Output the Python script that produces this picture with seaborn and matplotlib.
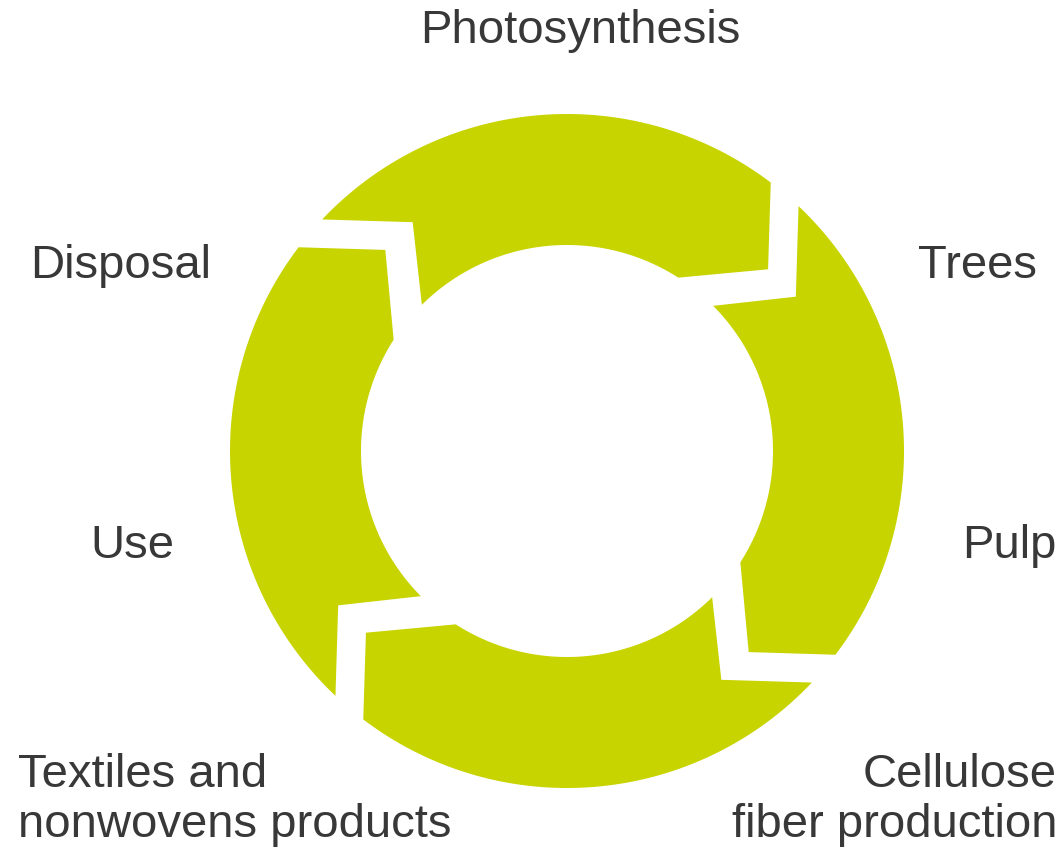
import numpy as np
import matplotlib
matplotlib.use("Agg")
import matplotlib.pyplot as plt
import seaborn as sns

# stages of the cycle, clockwise from the top arrow
stages = ["Photosynthesis", "Trees", "Pulp", "Cellulose\nfiber production",
          "Textiles and\nnonwovens products", "Use", "Disposal"]
# gaps between the four arrows (degrees, counter-clockwise from east)
gap_angles = [135, 45, -45, -135]

# ring layout in pixel space
cx, cy = 567, 451
r_out, r_in = 337, 206
green = "#c8d400"
text_col = "#383838"

sns.set_style("white")
plt.rcParams["font.family"] = ["Liberation Sans", "DejaVu Sans"]

fig = plt.figure(figsize=(10.64, 8.48), dpi=100)
ax = fig.add_axes([0, 0, 1, 1])
ax.set_xlim(0, 1064)
ax.set_ylim(848, 0)
ax.set_aspect("equal")
ax.axis("off")


def pt(ang, r):
    a = np.radians(ang)
    return cx + r * np.cos(a), cy - r * np.sin(a)


def arrow(tail_gap):
    head_gap = tail_gap - 90
    pts = []
    # outer arc, clockwise from tail to head
    for a in np.linspace(tail_gap + 1.6, head_gap + 7.8, 120):
        pts.append(pt(a, r_out))
    pts.append(pt(head_gap - 2.9, 271))  # arrow tip
    # inner arc, back to tail
    for a in np.linspace(head_gap + 12.3, tail_gap - 0.2, 120):
        pts.append(pt(a, r_in))
    pts.append(pt(tail_gap - 11.0, 276))  # tail notch
    return np.array(pts)


for g in gap_angles:
    p = arrow(g)
    ax.fill(p[:, 0], p[:, 1], color=green, lw=0)

fs = 34
label_pos = [
    (580, 43, "center"),
    (918, 278, "left"),
    (962, 558, "left"),
    (1057, 787, "right"),
    (18, 787, "left"),
    (90, 558, "left"),
    (30, 278, "left"),
]
for name, (x, y, ha) in zip(stages, label_pos):
    lines = name.split("\n")
    for i, line in enumerate(lines):
        ax.text(x, y + i * 50, line, ha=ha, va="baseline", fontsize=fs,
                color=text_col)

fig.savefig("out.png", dpi=100, facecolor="white")
